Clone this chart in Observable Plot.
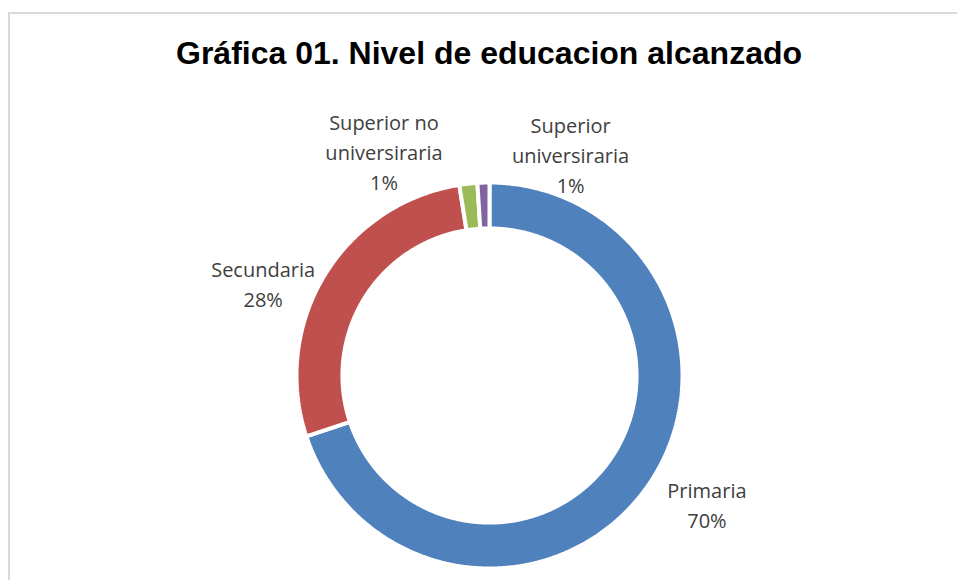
<!DOCTYPE html>
<html>
<head>
<meta charset="utf-8">
<script src="https://cdn.jsdelivr.net/npm/d3@7"></script>
<script src="https://cdn.jsdelivr.net/npm/@observablehq/plot@0.6"></script>
<style>
  body { margin: 0; background: #fff; overflow: hidden; }
  #wrap { position: relative; width: 957px; height: 580px; overflow: hidden; background: #fff; }
  #frame { position: absolute; left: 8px; top: 12px; width: 2000px; height: 2000px;
           border-left: 2px solid #d9d9d9; border-top: 2px solid #d9d9d9; }
  #title { position: absolute; left: 0; width: 978px; top: 37px; text-align: center;
           font: bold 32px/32px "Liberation Sans", Arial, sans-serif; color: #000; white-space: nowrap; }
  #chart { position: absolute; left: 0; top: 0; }
</style>
</head>
<body>
<div id="wrap">
  <div id="frame"></div>
  <div id="chart"></div>
  <div id="title">Gráfica 01. Nivel de educacion alcanzado</div>
</div>
<script>
// ---- data ----
const categories = ["Primaria", "Secundaria", "Superior no universiraria", "Superior universiraria"];
const shares = [69.9, 27.6, 1.5, 1.0];
const labelNames = ["Primaria", "Secundaria", "Superior no\nuniversiraria", "Superior\nuniversiraria"];
const pctLabels = ["70%", "28%", "1%", "1%"];
const colors = ["#4F81BD", "#C0504D", "#9BBB59", "#8064A2"];

// ---- layout ----
const innerRatio = 0.762;
const labelRadius = 1.3;
const labelNudge = [[14, -19], [-12, 37], [-78, 24], [89, 29]]; // pixel offsets per label

const arcs = d3.pie().sort(null).value(d => d)(shares);

const ringPts = [];
arcs.forEach((a, i) => {
  const a0 = a.startAngle, a1 = a.endAngle;
  const n = Math.max(2, Math.ceil((a1 - a0) / (Math.PI / 360)));
  for (let k = 0; k <= n; k++) {
    const t = a0 + (a1 - a0) * k / n;
    ringPts.push({cat: categories[i], x: Math.sin(t), y: Math.cos(t)});
  }
  for (let k = n; k >= 0; k--) {
    const t = a0 + (a1 - a0) * k / n;
    ringPts.push({cat: categories[i], x: innerRatio * Math.sin(t), y: innerRatio * Math.cos(t)});
  }
});

const labelMarks = arcs.map((a, i) => {
  const mid = (a.startAngle + a.endAngle) / 2;
  return Plot.text([{x: labelRadius * Math.sin(mid), y: labelRadius * Math.cos(mid), t: labelNames[i] + "\n" + pctLabels[i]}], {
    x: "x", y: "y", text: "t",
    dx: labelNudge[i][0], dy: labelNudge[i][1],
    fontSize: 20, lineHeight: 1.5, fill: "#404040", textAnchor: "middle"
  });
});

const R = 193, cx = 489, cy = 375;
const chart = Plot.plot({
  width: 957,
  height: 580,
  margin: 0,
  style: {fontFamily: "'Open Sans', 'Noto Sans', sans-serif", background: "transparent", overflow: "visible"},
  x: {domain: [-1, 1], range: [cx - R, cx + R], axis: null},
  y: {domain: [-1, 1], range: [cy + R, cy - R], axis: null},
  color: {domain: categories, range: colors},
  marks: [
    Plot.line(ringPts, {x: "x", y: "y", z: "cat", fill: "cat", stroke: "white", strokeWidth: 4,
                        curve: "linear-closed", strokeLinejoin: "miter"}),
    ...labelMarks
  ]
});
document.getElementById("chart").appendChild(chart);
</script>
</body>
</html>
